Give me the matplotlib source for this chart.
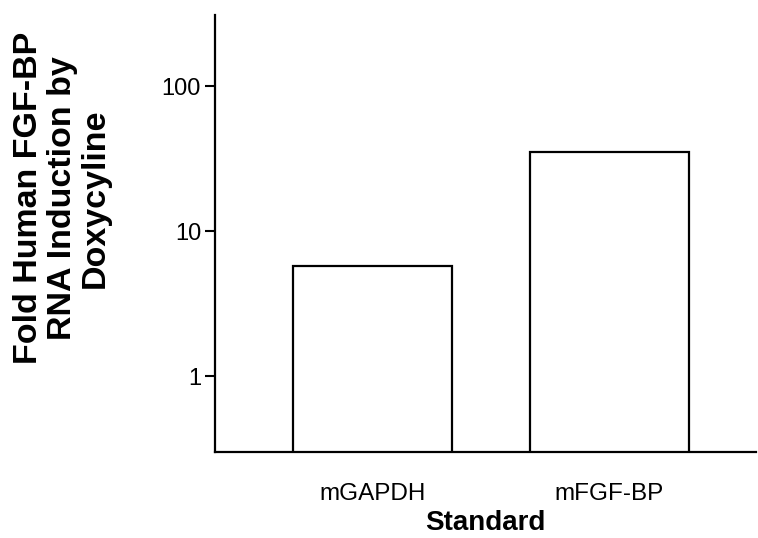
import matplotlib
matplotlib.use("Agg")
import matplotlib.pyplot as plt

categories = ["mGAPDH", "mFGF-BP"]
values = [5.8, 35.0]
yticks = [1, 10, 100]
ytick_labels = ["1", "10", "100"]

plt.rcParams['font.family'] = ['Liberation Sans', 'DejaVu Sans']

fig = plt.figure(figsize=(7.58, 5.38), dpi=100)
ax = fig.add_axes([215/758, 1-452/538, (756-215)/758, (452-15)/538])

x = list(range(len(categories)))
ax.bar(x, values, width=0.67, color="white", edgecolor="black", linewidth=1.6, zorder=2)
ax.set_yscale("log")
ax.set_ylim(0.3, 310)
ax.set_xlim(-0.665, 1.618)
ax.set_yticks(yticks)
ax.set_yticklabels(ytick_labels)
ax.yaxis.set_minor_locator(matplotlib.ticker.NullLocator())
ax.set_xticks(x)
ax.set_xticklabels(categories)

for s in ["top", "right"]:
    ax.spines[s].set_visible(False)
for s in ["left", "bottom"]:
    ax.spines[s].set_linewidth(1.6)

ax.tick_params(axis="y", direction="out", length=7, width=1.5, pad=3, labelsize=17)
ax.tick_params(axis="x", length=0, pad=22, labelsize=17.5)

ax.set_xlabel("Standard", fontsize=20, fontweight="bold", labelpad=4)

fig.text(62/758, 1-198/538, "Fold Human FGF-BP\nRNA Induction by\nDoxycyline",
         rotation=90, ha="center", va="center", multialignment="center",
         fontsize=24.5, fontweight="bold", linespacing=1.1)

fig.savefig("out.png", dpi=100)
